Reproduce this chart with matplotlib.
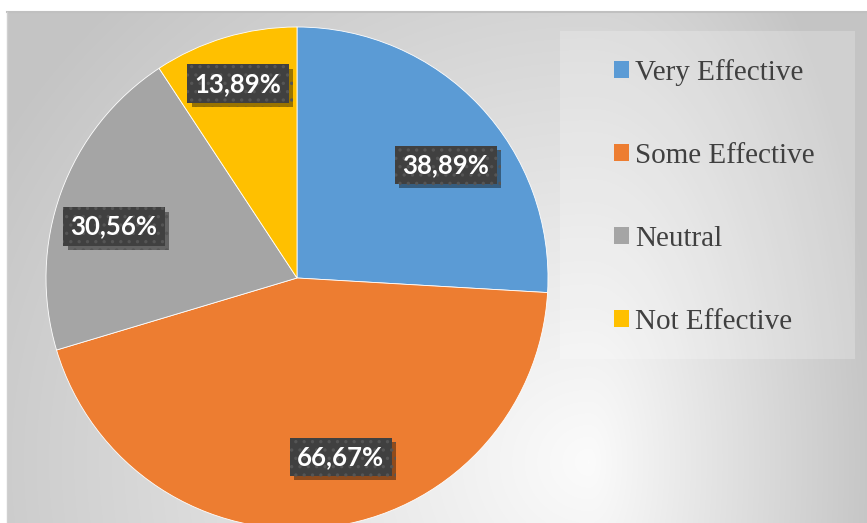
import numpy as np
import matplotlib
matplotlib.use("Agg")
import matplotlib.pyplot as plt
import matplotlib.patheffects as pe
from matplotlib.patches import Rectangle, Patch

# datos del grafico
categorias = ["Very Effective", "Some Effective", "Neutral", "Not Effective"]
valores = [38.89, 66.67, 30.56, 13.89]
etiquetas = ["38,89%", "66,67%", "30,56%", "13,89%"]
colores = ["#5B9BD5", "#ED7D31", "#A5A5A5", "#FFC000"]

W, H = 867, 523
fig = plt.figure(figsize=(W / 100, H / 100), dpi=100)
fig.patch.set_facecolor("white")
ax = fig.add_axes([0, 0, 1, 1])

# fondo degradado del area del grafico
x0, y0 = 7, 0
x1, y1 = W, H - 12
xx, yy = np.meshgrid(np.linspace(x0, x1, 400), np.linspace(y0, y1, 250))
cx, cy = 590, 60
dx = np.where(xx < cx, (xx - cx) / 640, (xx - cx) / 270)
dy = (yy - cy) / 600
d = np.sqrt(dx ** 2 + dy ** 2)
g = np.clip(0.985 - 0.2 * d, 0.77, 0.99)
ax.imshow(np.dstack([g, g, g]), extent=(x0, x1, y0, y1), origin="lower",
          aspect="auto", zorder=0, interpolation="bilinear")
ax.plot([x0, x1], [y1, y1], color="#c0c0c0", lw=1.5, zorder=1)
ax.plot([x0, x0], [y0, y1], color="#d0d0d0", lw=1, zorder=1)

# marco de la leyenda
ax.add_patch(Rectangle((560, H - 359), 295, 328, facecolor="white", alpha=0.22,
                       edgecolor="none", zorder=1))

# pastel
wedges, textos = ax.pie(valores, colors=colores, startangle=90, counterclock=False,
                        center=(297, H - 278), radius=251, frame=True,
                        labels=etiquetas, labeldistance=0.75,
                        wedgeprops=dict(edgecolor="white", linewidth=0.6))
for w in wedges:
    w.set_zorder(2)

# ajuste fino de la posicion de las etiquetas (px)
ajustes = [(12, -14), (22, 10), (-6, -11), (-5, 16)]

matplotlib.rcParams["hatch.linewidth"] = 1.2
for t, (ox, oy) in zip(textos, ajustes):
    px, py = t.get_position()
    t.set_position((px + ox, py + oy))
    t.set_ha("center")
    t.set_va("center_baseline")
    t.set_color("white")
    t.set_fontfamily("Lato")
    t.set_fontweight("bold")
    t.set_fontsize(18.5)
    t.set_zorder(5)
    t.set_bbox(dict(boxstyle="square,pad=0.28", facecolor="#404040",
                    edgecolor="#555555", linewidth=0, hatch=".."))
    t.get_bbox_patch().set_path_effects([
        pe.SimplePatchShadow(offset=(3, -3), shadow_rgbFace="black", alpha=0.4),
        pe.Normal()])

ax.set_xlim(0, W)
ax.set_ylim(0, H)
ax.set_aspect("auto")
ax.axis("off")

# leyenda
handles = [Patch(facecolor=c, edgecolor="none") for c in colores]
fig.legend(handles, categorias, loc="upper left", bbox_to_anchor=(614 / W, 1 - 59 / H),
           frameon=False, prop={"family": "Liberation Serif", "size": 21},
           labelcolor="#404040", handlelength=0.52, handleheight=0.52,
           handletextpad=0.2, labelspacing=1.95, borderpad=0, borderaxespad=0)

fig.savefig("out.png", dpi=100)
